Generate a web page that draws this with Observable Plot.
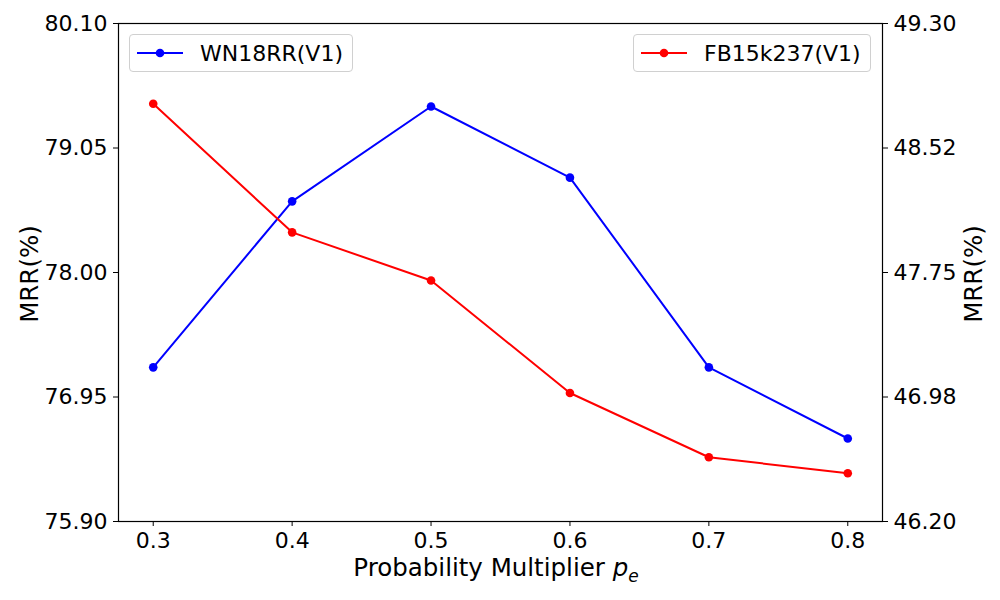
<!DOCTYPE html>
<html>
<head>
<meta charset="utf-8">
<script src="https://cdn.jsdelivr.net/npm/d3@7"></script>
<script src="https://cdn.jsdelivr.net/npm/@observablehq/plot@0.6"></script>
<style>
  body { margin: 0; background: #fff; }
  #wrap { position: relative; width: 1000px; height: 600px; font-family: "DejaVu Sans", sans-serif; }
  #wrap svg { position: absolute; left: 0; top: 0; }
  .lab { position: absolute; font-size: 24.5px; color: #000; white-space: nowrap; }
  .legend { position: absolute; border: 1px solid #d0d0d0; border-radius: 4px; background: rgba(255,255,255,0.8);
            font-size: 22px; display: flex; align-items: center; height: 38px; box-sizing: border-box; }
  .legend svg { position: static !important; }
</style>
</head>
<body>
<div id="wrap"></div>
<script>
const xValues = [0.3, 0.4, 0.5, 0.6, 0.7, 0.8];
const wn18rr = [77.20, 78.60, 79.40, 78.80, 77.20, 76.60];
const fb15k237 = [48.80, 48.00, 47.70, 47.00, 46.60, 46.50];
const leftTicks = [75.90, 76.95, 78.00, 79.05, 80.10];
const rightTicks = [46.20, 46.975, 47.75, 48.525, 49.30];
const rightTickLabels = ["46.20", "46.98", "47.75", "48.52", "49.30"];
const xTicks = [0.3, 0.4, 0.5, 0.6, 0.7, 0.8];

const leftDomain = [75.90, 80.10];
const rightDomain = [46.20, 49.30];
const toLeft = v => leftDomain[0] + (v - rightDomain[0]) * (leftDomain[1] - leftDomain[0]) / (rightDomain[1] - rightDomain[0]);

const blueData = xValues.map((x, i) => ({x, y: wn18rr[i]}));
const redData = xValues.map((x, i) => ({x, y: toLeft(fb15k237[i])}));
const rightMapped = rightTicks.map(toLeft);

const chart = Plot.plot({
  width: 1000,
  height: 600,
  marginLeft: 118,
  marginRight: 118,
  marginTop: 23,
  marginBottom: 79,
  style: { fontFamily: "DejaVu Sans, sans-serif", fontSize: "22px", color: "#000", background: "transparent" },
  x: { domain: [0.275, 0.825] },
  y: { domain: leftDomain },
  marks: [
    Plot.axisX(xTicks, { tickSize: 5, tickPadding: 6, tickFormat: d3.format(".1f"), label: null, stroke: "#000", fill: "#000" }),
    Plot.axisY(leftTicks, { anchor: "left", tickSize: 5, tickPadding: 6, tickFormat: d3.format(".2f"), label: null, stroke: "#000", fill: "#000" }),
    Plot.axisY(rightMapped, { anchor: "right", tickSize: 5, tickPadding: 6, tickFormat: d => rightTickLabels[rightMapped.indexOf(d)], label: null, stroke: "#000", fill: "#000" }),
    Plot.line(blueData, { x: "x", y: "y", stroke: "#0000ff", strokeWidth: 2 }),
    Plot.dot(blueData, { x: "x", y: "y", fill: "#0000ff", r: 4.3 }),
    Plot.line(redData, { x: "x", y: "y", stroke: "#ff0000", strokeWidth: 2 }),
    Plot.dot(redData, { x: "x", y: "y", fill: "#ff0000", r: 4.3 }),
    Plot.frame({ stroke: "#000", strokeWidth: 1.2 })
  ]
});

const wrap = document.getElementById("wrap");
wrap.appendChild(chart);

function addLabel(html, style) {
  const d = document.createElement("div");
  d.className = "lab";
  d.innerHTML = html;
  Object.assign(d.style, style);
  wrap.appendChild(d);
  return d;
}
addLabel('Probability Multiplier <i>p</i><sub style="font-size:17px;font-style:italic">e</sub>', { left: "496px", top: "553px", transform: "translateX(-50%)" });
addLabel('MRR(%)', { left: "29px", top: "274px", transform: "translate(-50%,-50%) rotate(-90deg)" });
addLabel('MRR(%)', { left: "973px", top: "274px", transform: "translate(-50%,-50%) rotate(-90deg)" });

function addLegend(text, color, left, width) {
  const d = document.createElement("div");
  d.className = "legend";
  Object.assign(d.style, { left: left + "px", top: "34px", width: width + "px" });
  d.innerHTML = `<svg width="46" height="20" style="margin-left:7px;margin-right:17px"><line x1="0" y1="10" x2="46" y2="10" stroke="${color}" stroke-width="2"/><circle cx="23" cy="10" r="4.3" fill="${color}"/></svg><span>${text}</span>`;
  wrap.appendChild(d);
}
addLegend("WN18RR(V1)", "#0000ff", 129, 224);
addLegend("FB15k237(V1)", "#ff0000", 633, 238);
</script>
</body>
</html>
